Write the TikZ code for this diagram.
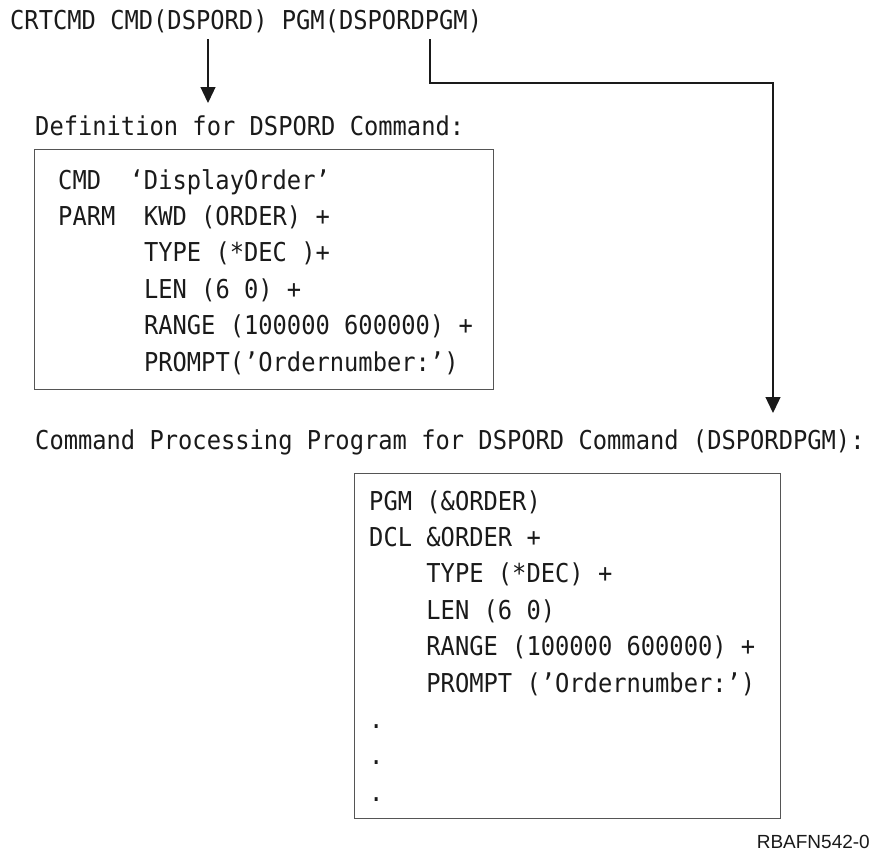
\documentclass[tikz,border=0pt]{standalone}
\usepackage{fontspec}
\setmonofont[FakeStretch=0.9136]{DejaVu Sans Mono}
\newfontfamily\labelfont{Liberation Sans}
\usetikzlibrary{arrows.meta}
\definecolor{txt}{HTML}{1A1A1A}
\definecolor{frame}{HTML}{555555}
\definecolor{ln}{HTML}{1A1A1A}
\begin{document}
\begin{tikzpicture}[x=1pt,y=-1pt,
  code/.style={font=\ttfamily\fontsize{26}{30}\selectfont, anchor=base west, inner sep=0pt, text=txt},
  boxframe/.style={draw=frame, line width=1.4pt, inner sep=0pt, anchor=north west},
  conn/.style={draw=ln, line width=1.3pt},
  tip/.style={-{Triangle[length=16pt,width=15pt]}}]
\useasboundingbox (0,0) rectangle (878,854);
% title line
\node[code] (crt) at (10,29) {CRTCMD CMD(DSPORD) PGM(DSPORDPGM)};
% definition
\node[code] (deflbl) at (35,135) {Definition for DSPORD Command:};
\node[boxframe, minimum width=459pt, minimum height=240pt] (defbox) at (34,149) {};
\node[code] (d1) at (58,189) {CMD\ \ ‘DisplayOrder’};
\node[code] (d2) at (58,225.4) {PARM\ \ KWD (ORDER) +};
\node[code] (d3) at (143.8,261.8) {TYPE (*DEC )+};
\node[code] (d4) at (143.8,298.2) {LEN (6 0) +};
\node[code] (d5) at (143.8,334.6) {RANGE (100000 600000) +};
\node[code] (d6) at (143.8,371) {PROMPT(’Ordernumber:’)};
% program
\node[code] (pgmlbl) at (35,449) {Command Processing Program for DSPORD Command (DSPORDPGM):};
\node[boxframe, minimum width=426pt, minimum height=345pt] (pgmbox) at (354,473) {};
\node[code] (p1) at (369,510) {PGM (\&ORDER)};
\node[code] (p2) at (369,546.4) {DCL \&ORDER +};
\node[code] (p3) at (426.2,582.8) {TYPE (*DEC) +};
\node[code] (p4) at (426.2,619.2) {LEN (6 0)};
\node[code] (p5) at (426.2,655.6) {RANGE (100000 600000) +};
\node[code] (p6) at (426.2,692) {PROMPT (’Ordernumber:’)};
\node[code] (p7) at (369,728.4) {.};
\node[code] (p8) at (369,764.8) {.};
\node[code] (p9) at (369,801.2) {.};
% figure id
\node[font=\labelfont\fontsize{19}{22}\selectfont, anchor=base east, inner sep=0pt, text=txt] (figid) at (870,848) {RBAFN542-0};
% connectors
\coordinate (a1s) at (208,39);
\coordinate (a1e) at (208,103);
\draw[conn,tip] (a1s) -- (a1e);
\coordinate (a2s) at (430,39);
\coordinate (a2e) at (773,413);
\draw[conn,tip] (a2s) -- ++(0,44) -| (a2e);
\end{tikzpicture}
\end{document}
